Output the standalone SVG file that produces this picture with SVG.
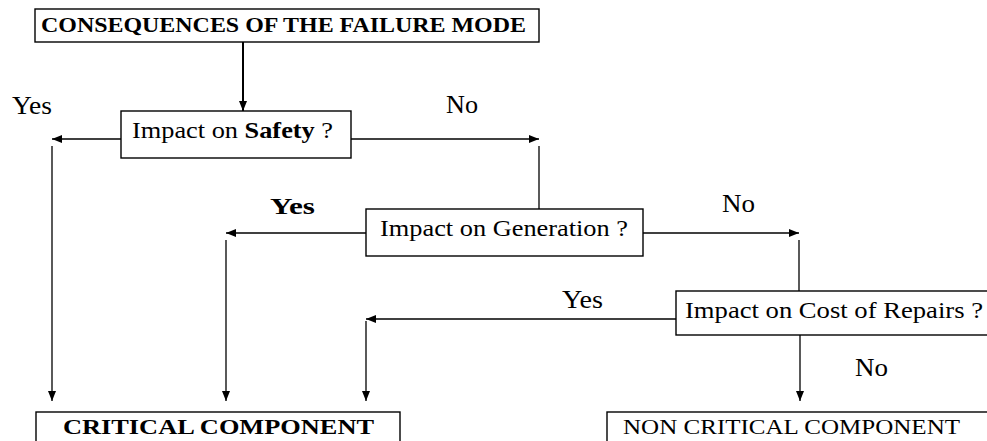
<svg xmlns="http://www.w3.org/2000/svg" width="987" height="441" viewBox="0 0 987 441">
<defs>
<marker id="ah" markerUnits="userSpaceOnUse" markerWidth="10" markerHeight="10" viewBox="0 0 10 10" refX="10" refY="5" orient="auto">
<path d="M0,1 L10,5 L0,9 Z" fill="#000"/>
</marker>
</defs>
<style>
rect{fill:#fff;stroke:#000;stroke-width:1.4}
text{font-family:"Liberation Serif","Times New Roman",serif;fill:#000}
.c line{stroke:#000;stroke-width:1.3;fill:none}
.a{marker-end:url(#ah)}
.b{font-weight:bold}
</style>
<rect x="0" y="0" width="987" height="441" style="stroke:none"/>
<g id="title">
<rect x="35" y="9" width="504" height="33"/>
<text x="41" y="32" font-size="22" class="b" textLength="485" lengthAdjust="spacingAndGlyphs">CONSEQUENCES OF THE FAILURE MODE</text>
</g>
<g id="safety">
<rect x="121" y="111" width="230" height="47"/>
<text x="132" y="138" font-size="24" textLength="201" lengthAdjust="spacingAndGlyphs">Impact on <tspan class="b">Safety</tspan>  ?</text>
</g>
<g id="generation">
<rect x="366" y="209" width="277" height="47"/>
<text x="380" y="236" font-size="24" textLength="248" lengthAdjust="spacingAndGlyphs">Impact on Generation ?</text>
</g>
<g id="cost">
<rect x="676" y="291" width="314" height="44"/>
<text x="685" y="318" font-size="24" textLength="298" lengthAdjust="spacingAndGlyphs">Impact on Cost of Repairs ?</text>
</g>
<g id="critical">
<rect x="36" y="412" width="364" height="40"/>
<text x="63" y="434" font-size="22" class="b" textLength="311" lengthAdjust="spacingAndGlyphs">CRITICAL COMPONENT</text>
</g>
<g id="noncritical">
<rect x="607" y="412" width="390" height="40"/>
<text x="623" y="434" font-size="22" textLength="337" lengthAdjust="spacingAndGlyphs">NON CRITICAL COMPONENT</text>
</g>
<g id="connectors" class="c">
<line x1="243" y1="42" x2="243" y2="111" class="a" style="stroke-width:2"/>
<line x1="121" y1="139" x2="52" y2="139" class="a"/>
<line x1="52" y1="146" x2="52" y2="401" class="a"/>
<line x1="351" y1="139" x2="539" y2="139" class="a"/>
<line x1="539" y1="146" x2="539" y2="209"/>
<line x1="366" y1="233" x2="226" y2="233" class="a"/>
<line x1="226" y1="240" x2="226" y2="401" class="a"/>
<line x1="643" y1="233" x2="799" y2="233" class="a"/>
<line x1="799" y1="240" x2="799" y2="291"/>
<line x1="676" y1="319" x2="366" y2="319" class="a"/>
<line x1="366" y1="321" x2="366" y2="401" class="a"/>
<line x1="800" y1="335" x2="800" y2="401" class="a"/>
</g>
<g id="labels">
<text x="12" y="114" font-size="25" textLength="40" lengthAdjust="spacingAndGlyphs">Yes</text>
<text x="446" y="113" font-size="25" textLength="32" lengthAdjust="spacingAndGlyphs">No</text>
<text x="270" y="214" font-size="24" class="b" textLength="45" lengthAdjust="spacingAndGlyphs">Yes</text>
<text x="722" y="212" font-size="25" textLength="33" lengthAdjust="spacingAndGlyphs">No</text>
<text x="562" y="308" font-size="25" textLength="41" lengthAdjust="spacingAndGlyphs">Yes</text>
<text x="855" y="376" font-size="25" textLength="33" lengthAdjust="spacingAndGlyphs">No</text>
</g>
</svg>
